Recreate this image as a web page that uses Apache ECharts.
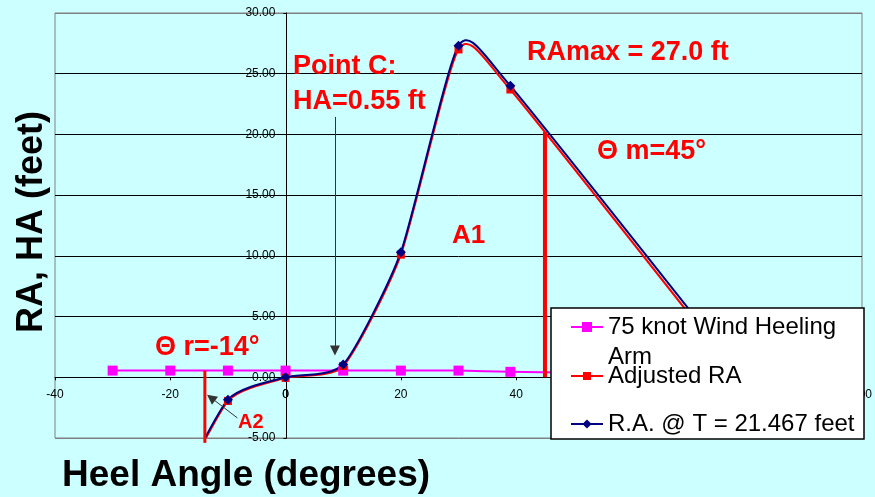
<!DOCTYPE html>
<html>
<head>
<meta charset="utf-8">
<script src="https://cdn.jsdelivr.net/npm/echarts@6/dist/echarts.min.js"></script>
<style>
  html, body { margin: 0; padding: 0; background: #ccffff; }
  #chart { width: 875px; height: 497px; }
</style>
</head>
<body>
<div id="chart"></div>
<script>
// Heeling arm from a 75 knot wind (feet) against heel angle (degrees)
const windAngles = [-30, -20, -10, 0, 10, 20, 30, 39, 50];
const windArm = [0.55, 0.55, 0.55, 0.55, 0.55, 0.55, 0.55, 0.45, 0.4];

// Righting arm curves (feet) against heel angle (degrees)
const raAngles = [-20, -10, 0, 10, 20, 30, 39, 80];
const adjustedRA = [-10.7, -1.95, -0.05, 0.93, 10.1, 27.0, 23.7, -0.8];
const raAtT = [-10.5, -1.84, 0.0, 1.05, 10.3, 27.3, 24.0, -0.4];

// Range angle and max-RA angle verticals: [angle, arm]
const thetaRLine = [[-14, 0.55], [-14, -5.4]];
const thetaMLine = [[45, 0], [45, 20.2]];

// Annotation arrows: [tail, head]
const pointCArrow = [[8.57, 21.44], [8.57, 2.2]];
const a2Arrow = [[-8.36, -3.35], [-12.93, -1.68]];

// Axis ranges and tick spacing
const xRange = { min: -40, max: 100, step: 20 };
const yRange = { min: -5, max: 30, step: 5 };

const names = ['75 knot Wind Heeling Arm', 'Adjusted RA', 'R.A. @ T = 21.467 feet'];
const colors = ['#ff00ff', '#ff0000', '#000080'];
const FONT = '"Liberation Sans", Arial, sans-serif';
const pairs = (xs, ys) => xs.map((x, i) => [x, ys[i]]);

// Plot box (pixels)
const W = 875, H = 497;
const gridBox = { left: 55, right: 10, top: 13, bottom: 59 };
const plotW = W - gridBox.left - gridBox.right;
const plotH = H - gridBox.top - gridBox.bottom;
// Both axes cross at zero: shift them in from the plot edges
const yAxisShift = -(0 - xRange.min) / (xRange.max - xRange.min) * plotW;
const xAxisShift = -(0 - yRange.min) / (yRange.max - yRange.min) * plotH;
const LABEL_MARGIN = 11;

// Cardinal spline through projected points, written as cubic Bezier path data
const TENSION = 0.1;
function splinePath(pts) {
  let d = 'M' + pts[0][0] + ',' + pts[0][1];
  for (let i = 0; i < pts.length - 1; i++) {
    const p0 = pts[i - 1] || pts[i], p1 = pts[i], p2 = pts[i + 1], p3 = pts[i + 2] || pts[i + 1];
    const c1 = [p1[0] + (p2[0] - p0[0]) * TENSION, p1[1] + (p2[1] - p0[1]) * TENSION];
    const c2 = [p2[0] - (p3[0] - p1[0]) * TENSION, p2[1] - (p3[1] - p1[1]) * TENSION];
    d += ' C' + c1[0] + ',' + c1[1] + ',' + c2[0] + ',' + c2[1] + ',' + p2[0] + ',' + p2[1];
  }
  return d;
}

// Smooth curve series drawn through the axes' scales
function curveSeries(xs, ys, color) {
  return {
    type: 'custom', data: [[xs[0], ys[0]]], clip: true, silent: true,
    renderItem: (params, api) => {
      const pts = xs.map((x, i) => api.coord([x, ys[i]]));
      return {
        type: 'path',
        shape: { pathData: splinePath(pts) },
        style: { fill: 'none', stroke: color, lineWidth: 2 }
      };
    }
  };
}

// Point markers (and legend entry) for a curve
function markerSeries(name, xs, ys, color, symbol, size) {
  return {
    name, type: 'line', data: pairs(xs, ys), symbol, symbolSize: size, color,
    itemStyle: { color }, lineStyle: { color, width: 2, opacity: 0 },
    emphasis: { disabled: true }, silent: true
  };
}

const chart = echarts.init(document.getElementById('chart'), null, { renderer: 'canvas' });

const redText = (text, x, y, size) => ({
  type: 'text', x, y, z: 5,
  style: { text, fill: '#ff0000', fontSize: size, fontWeight: 'bold', fontFamily: FONT,
           align: 'left', verticalAlign: 'middle' }
});

const legendBase = {
  orient: 'vertical', left: 570, padding: 0, itemWidth: 32, selectedMode: false,
  backgroundColor: 'transparent', zlevel: 1, z: 6,
  lineStyle: { opacity: 1, width: 2 }
};
const legendText = { fontSize: 24, lineHeight: 24, color: '#000', fontFamily: FONT };

chart.setOption({
  animation: false,
  backgroundColor: '#ccffff',
  grid: Object.assign({}, gridBox, {
    show: true, backgroundColor: '#ccffff', borderColor: '#808080', borderWidth: 1
  }),
  xAxis: {
    type: 'value', min: xRange.min, max: xRange.max, interval: xRange.step,
    offset: xAxisShift,
    axisLine: { onZero: false, lineStyle: { color: '#000', width: 1 } },
    axisTick: { show: true, length: 3, lineStyle: { color: '#000' } },
    axisLabel: { margin: LABEL_MARGIN, fontSize: 12, color: '#000', fontFamily: FONT },
    splitLine: { show: false }
  },
  yAxis: {
    type: 'value', min: yRange.min, max: yRange.max, interval: yRange.step,
    offset: yAxisShift,
    axisLine: { onZero: false, lineStyle: { color: '#000', width: 1 } },
    axisTick: { show: true, length: 3, lineStyle: { color: '#000' } },
    axisLabel: { margin: LABEL_MARGIN, fontSize: 12, color: '#000', fontFamily: FONT,
                 formatter: v => v.toFixed(2) },
    splitLine: { show: true, lineStyle: { width: 1,
      color: ['#808080', '#000', '#000', '#000', '#000', '#000', '#000', '#808080'] } }
  },
  legend: [
    // white framed panel behind the legend entries
    {
      data: [], left: 551, top: 308, zlevel: 1, z: 3, selectedMode: false,
      padding: [65.5, 156.5, 65.5, 156.5],
      backgroundColor: '#ffffff', borderColor: '#000', borderWidth: 1.5
    },
    Object.assign({}, legendBase, {
      top: 282, itemHeight: 12.5, data: [names[0]],
      formatter: () => ' \n75 knot Wind Heeling\nArm',
      textStyle: Object.assign({}, legendText, { lineHeight: 30 })
    }),
    Object.assign({}, legendBase, {
      top: 364, itemHeight: 10, data: [names[1]], textStyle: legendText
    }),
    Object.assign({}, legendBase, {
      top: 412, itemHeight: 11.5, data: [names[2]], textStyle: legendText
    })
  ],
  series: [
    curveSeries(windAngles, windArm, colors[0]),
    markerSeries(names[0], windAngles, windArm, colors[0], 'rect', 10),
    curveSeries(raAngles, adjustedRA, colors[1]),
    markerSeries(names[1], raAngles, adjustedRA, colors[1], 'rect', 8),
    curveSeries(raAngles, raAtT, colors[2]),
    markerSeries(names[2], raAngles, raAtT, colors[2], 'diamond', 10),
    {
      name: 'theta r', type: 'line', data: thetaRLine, symbol: 'none', clip: false,
      lineStyle: { color: '#ff0000', width: 3 }, silent: true, emphasis: { disabled: true }
    },
    {
      name: 'theta m', type: 'line', data: thetaMLine, symbol: 'none',
      lineStyle: { color: '#ff0000', width: 4 }, silent: true, emphasis: { disabled: true },
      markLine: {
        silent: true, animation: false,
        symbol: ['none', 'triangle'], symbolSize: 10,
        label: { show: false },
        lineStyle: { color: '#333', width: 1, type: 'solid' },
        itemStyle: { color: '#000' },
        emphasis: { disabled: true },
        data: [
          [{ coord: pointCArrow[0] }, { coord: pointCArrow[1] }],
          [{ coord: a2Arrow[0] }, { coord: a2Arrow[1] }]
        ]
      }
    }
  ]
});

// Text annotations; the origin tick label "0" sits where the two axes cross
const origin = chart.convertToPixel({ gridIndex: 0 }, [0, 0]);
chart.setOption({
  graphic: [
    redText('Point C:', 293, 67, 27),
    redText('HA=0.55 ft', 293, 102, 27),
    redText('RAmax = 27.0 ft', 527, 53, 27),
    redText('\u0398 m=45\u00b0', 597, 152, 27),
    redText('A1', 452, 236, 26),
    redText('\u0398 r=-14\u00b0', 155, 348, 27),
    redText('A2', 238, 422, 20),
    { type: 'text', x: origin[0], y: origin[1] + LABEL_MARGIN, z: 1,
      style: { text: '0', fill: '#000', fontSize: 12, fontFamily: FONT,
               align: 'center', verticalAlign: 'top' } },
    { type: 'text', x: 32.5, y: 222, rotation: Math.PI / 2, z: 5,
      style: { text: 'RA, HA (feet)', fill: '#000', fontSize: 36, fontWeight: 'bold', fontFamily: FONT,
               align: 'center', verticalAlign: 'middle' } },
    { type: 'text', x: 62, y: 476, z: 5,
      style: { text: 'Heel Angle (degrees)', fill: '#000', fontSize: 37, fontWeight: 'bold', fontFamily: FONT,
               align: 'left', verticalAlign: 'middle' } }
  ]
});
</script>
</body>
</html>
